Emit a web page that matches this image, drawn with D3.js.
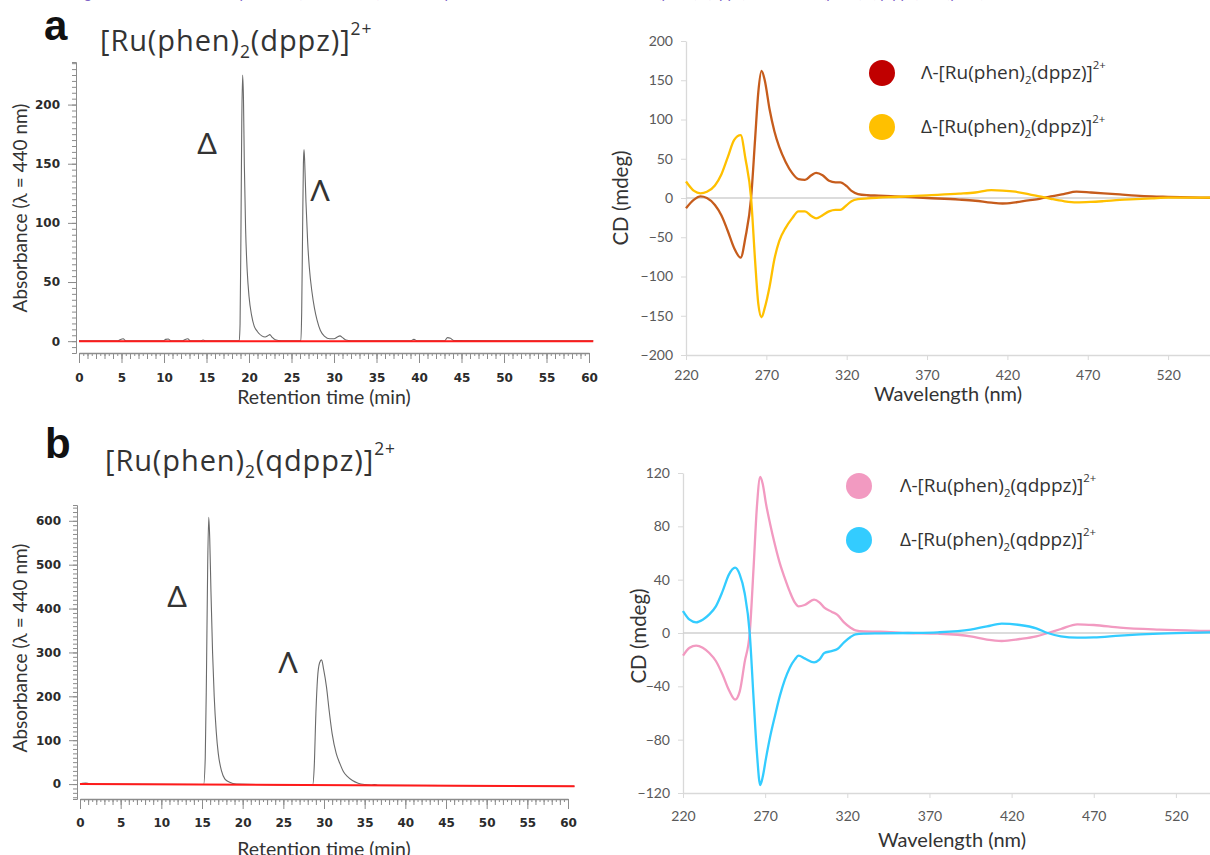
<!DOCTYPE html>
<html lang="en">
<head>
<meta charset="UTF-8" />
<title>Chiral HPLC and CD spectra of Ru complexes</title>
<style>
  body { margin: 0; background: #fff; }
  svg { display: block; }
  .chrom-axis text { font-family: 'Liberation Sans Narrow', 'DejaVu Sans', sans-serif; font-weight: bold; font-size: 12px; fill: #2b2b2b; }
  .chrom-axis path, .chrom-axis line { stroke: #8c8c8c; }
  .cd-axis text { font-family: Lato, 'Open Sans', sans-serif; font-size: 14px; fill: #595959; }
  .cd-axis path, .cd-axis line { stroke: #d9d9d9; }
  .lbl { font-family: Lato, 'Open Sans', sans-serif; fill: #333; }
  .seg { font-family: 'Open Sans', Lato, sans-serif; }
</style>
</head>
<body>
<svg width="1210" height="855"></svg>
<script src="https://d3js.org/d3.v7.min.js"></script>
<script>
// ---- HPLC chromatograms (retention time in min, absorbance at 440 nm) ----
const chromTimeA = [0, 4.6, 4.9, 5.2, 5.5, 9.9, 10.2, 10.5, 10.8, 12.2, 12.5, 12.8, 13.1, 14.3, 14.6, 14.9,
  18.85, 18.95, 19.05, 19.15, 19.25, 19.35, 19.45, 19.6, 19.8, 20.0, 20.3, 20.6, 21.0, 21.5, 21.9, 22.2, 22.45, 22.7, 23.1, 23.8,
  26.1, 26.2, 26.3, 26.4, 26.47, 26.55, 26.7, 26.9, 27.1, 27.4, 27.7, 28.0, 28.4, 28.9, 29.5, 30.0, 30.4, 30.7, 31.0, 31.4, 32.0,
  39.0, 39.4, 39.8, 43.0, 43.35, 43.7, 44.1, 60.5];
const chromAbsA = [0.3, 0.3, 1.5, 2.0, 0.3, 0.3, 1.5, 1.8, 0.3, 0.3, 1.5, 2.0, 0.3, 0.3, 1.0, 0.3,
  0.3, 15, 90, 185, 225, 205, 150, 95, 58, 38, 22, 13, 8, 4.5, 3.5, 4.5, 5.5, 3.5, 1.2, 0.4,
  0.3, 25, 90, 150, 162, 152, 118, 84, 62, 42, 28, 18, 9, 4, 2, 2, 3.5, 4.5, 3, 1, 0.4,
  0.3, 1.5, 0.3, 0.3, 3, 2.5, 0.5, 0.3];
const chromTimeB = [0, 0.3, 0.7, 1.1, 1.6, 15.2, 15.4, 15.55, 15.7, 15.83, 15.95, 16.1, 16.3, 16.5, 16.75, 17.0, 17.4, 17.8, 18.4, 19.2,
  28.6, 28.8, 29.0, 29.2, 29.45, 29.7, 29.95, 30.3, 30.65, 31.0, 31.5, 31.95, 32.4, 32.9, 33.5, 34.2, 35.0, 35.8, 36.2, 36.6, 60.8];
const chromAbsB = [0.5, 2, 2.5, 1.2, 0, -1, 60, 250, 500, 608, 560, 440, 300, 200, 120, 70, 30, 12, 4, 0,
  -2, 40, 160, 240, 276, 283, 262, 222, 165, 115, 70, 47, 28, 17, 8, 2, -1, -2, -1, -2.5, -5];
const redTimeA = [0, 60.5];
const redAbsA = [0, 0];
const redTimeB = [0, 60.8];
const redAbsB = [0, -5];
const chromTicksA = [0, 50, 100, 150, 200];
const chromTicksB = [0, 100, 200, 300, 400, 500, 600];
const timeTicks = d3.range(0, 61, 5);

// ---- CD spectra (wavelength in nm, CD in mdeg) ----
const cdWaveA = [220, 225, 229, 233, 238, 242, 246, 250, 254, 257, 260.5, 263, 265, 267, 269, 272, 275, 278, 282, 286, 290, 294,
  298, 301, 305, 309, 313, 316, 320, 323, 327, 333, 340, 350, 370, 390, 400, 410, 417, 425, 433, 440, 447, 455, 463, 472, 480, 490,
  500, 510, 520, 540, 560];
const cdLambdaA = [-13, -2, 2, 0, -9, -22, -42, -64, -76, -50, 0, 75, 135, 162, 150, 113, 85, 65, 46, 32, 24, 23,
  29, 32, 29, 22, 20, 20, 15, 9, 5, 3.5, 3, 2, 0, -2, -3.5, -6, -7, -5.5, -3, -1, 2, 5, 8, 7, 6, 4.5,
  3, 2, 1.5, 0.5, 0];
const cdDeltaA = [21, 9, 6, 8, 16, 30, 52, 74, 80, 50, 0, -80, -135, -152, -140, -113, -78, -55, -38, -26, -17, -17,
  -23, -26, -22, -17, -15, -15, -9, -4, -1.5, -0.5, 0.5, 1.3, 3.4, 5.5, 7, 10, 9.5, 8, 5, 2, -1, -4, -5.6, -5, -4, -2.5,
  -1.5, -0.5, 0.4, 0.5, 0];
const cdWaveB = [220, 224, 228, 232, 236, 240, 244, 248, 251.7, 254.5, 257.5, 260.6, 263, 265, 267, 268.5, 270.5, 273, 276, 279, 282,
  285, 288, 290.4, 294, 299.8, 303, 306, 310.4, 314, 318, 322, 325, 330, 340, 357, 375, 395, 405, 414, 425, 435, 442, 450, 460, 470, 486,
  510, 540, 560];
const cdLambdaB = [-17, -11, -9.4, -11, -15, -21, -31, -43, -50, -44, -22, 0, 50, 95, 117, 112, 97, 82, 66, 52, 41,
  31, 23, 20, 21, 25, 23, 19, 16, 13.6, 8, 4, 2, 1.2, 1, 0, -0.5, -2.5, -5, -6, -4.5, -2.5, 0, 3, 6.5, 6, 4,
  2.5, 1.5, 1];
const cdDeltaB = [16.5, 10, 8, 10, 14, 20, 31, 44, 49, 44, 30, 0, -50, -90, -114, -108, -94, -78, -62, -47, -35,
  -26, -20, -17, -19, -22, -20, -15, -13.6, -12, -7, -3, -1, -0.5, -0.3, 0, 0.5, 2.5, 5, 7, 6, 3.5, 0, -2.5, -3.5, -3.3, -2,
  -0.5, 0.5, 1];
const cdTicksX = [220, 270, 320, 370, 420, 470, 520];
const cdTicksYA = [-200, -150, -100, -50, 0, 50, 100, 150, 200];
const cdTicksYB = [-120, -80, -40, 0, 40, 80, 120];

const svg = d3.select("svg");

// caption line cut off at the top of the figure
svg.append("text")
  .attr("x", 72).attr("y", -2)
  .style("font-family", "Lato, sans-serif").style("font-size", "15px").attr("fill", "#8064c8")
  .text("Figure S1. Chiral HPLC separation (λ = 440 nm) and CD spectra of the enantiomers of [Ru(phen)2(dppz)]2+ and [Ru(phen)2(qdppz)]2+ (yield).");

function richText(g, x, y, size, parts, anchor) {
  const t = g.append("text").attr("class", "lbl").attr("x", x).attr("y", y)
    .style("font-size", size + "px").attr("text-anchor", anchor || "start");
  let shift = 0;
  parts.forEach(([s, kind]) => {
    const target = kind === "sub" ? 0.24 * size : kind === "sup" ? -0.55 * size : 0;
    t.append("tspan").attr("dy", target - shift)
      .style("font-size", kind ? (0.6 * size) + "px" : null).text(s);
    shift = target;
  });
  return t;
}
const formula = lig => [["[Ru(phen)"], ["2", "sub"], ["(" + lig + ")]"], ["2+", "sup"]];

function panelLetter(x, y, s) {
  svg.append("text").attr("x", x).attr("y", y).text(s)
    .style("font-family", "'Liberation Sans', Arial, sans-serif").style("font-weight", "bold")
    .style("font-size", "42px").attr("fill", "#111");
}

function chromatogram(o) {
  const x = d3.scaleLinear().domain([0, 60]).range(o.xRange);
  const y = d3.scaleLinear().domain(o.yDomain).range(o.yRange);
  const g = svg.append("g");
  const yBottom = o.yRange[0];

  // y axis: minor, then major with labels
  g.append("g").attr("class", "chrom-axis").attr("transform", `translate(${o.xRange[0] - 3},0)`)
    .call(d3.axisLeft(y).tickValues(d3.range(o.minorStep * Math.ceil(o.yDomain[0] / o.minorStep), o.yDomain[1], o.minorStep))
      .tickSize(4).tickFormat(""));
  g.append("g").attr("class", "chrom-axis").attr("transform", `translate(${o.xRange[0] - 3},0)`)
    .call(d3.axisLeft(y).tickValues(o.yTicks).tickSize(8).tickPadding(8))
    .call(a => a.select(".domain").remove());

  // x axis: half-minute, minute and 5-minute ticks
  const xa = g.append("g").attr("transform", `translate(0,${yBottom})`);
  xa.append("g").attr("class", "chrom-axis")
    .call(d3.axisBottom(x).tickValues(d3.range(0, 60.01, 0.5)).tickSize(3).tickFormat("").tickSizeOuter(0));
  xa.append("g").attr("class", "chrom-axis")
    .call(d3.axisBottom(x).tickValues(d3.range(0, 60.01, 1)).tickSize(6).tickFormat(""))
    .call(a => a.select(".domain").remove());
  xa.append("g").attr("class", "chrom-axis")
    .call(d3.axisBottom(x).tickValues(timeTicks).tickSize(10).tickPadding(o.xPad))
    .call(a => a.select(".domain").remove());
  xa.selectAll(".domain").attr("stroke-width", 1.5);

  const line = d3.line().x(d => x(d[0])).y(d => y(d[1])).curve(d3.curveMonotoneX);
  g.append("path").datum(d3.zip(o.time, o.abs))
    .attr("d", line).attr("fill", "none").attr("stroke", "#6a6a6a").attr("stroke-width", 1.1);
  g.append("path").datum(d3.zip(o.redTime, o.redAbs))
    .attr("d", line).attr("fill", "none").attr("stroke", "#ff1a1a").attr("stroke-width", 2);

  // peak labels
  o.peaks.forEach(p => {
    g.append("text").attr("class", "lbl").attr("x", p.x).attr("y", p.y).attr("text-anchor", "middle")
      .style("font-size", "29px").attr("fill", "#111").text(p.s);
  });

  g.append("text").attr("class", "lbl").attr("text-anchor", "middle")
    .attr("transform", `translate(${o.yTitle[0]},${o.yTitle[1]}) rotate(-90)`)
    .style("font-size", "19px").text("Absorbance (λ = 440 nm)");
  g.append("text").attr("class", "lbl").attr("text-anchor", "middle")
    .attr("x", o.xTitle[0]).attr("y", o.xTitle[1])
    .style("font-size", "19.5px").text("Retention time (min)");
}

function cdPlot(o) {
  const x = d3.scaleLinear().domain([220, 560]).range([o.x0, o.x0 + 340 * o.pxPerNm]);
  const y = d3.scaleLinear().domain(o.yDomain).range(o.yRange);
  const g = svg.append("g");

  g.append("g").attr("class", "cd-axis").attr("transform", `translate(${o.x0},0)`)
    .call(d3.axisLeft(y).tickValues(o.yTicks).tickSize(5).tickPadding(8).tickSizeOuter(0).tickFormat(d3.format("d")))
    .call(a => a.select(".domain").attr("stroke-width", 1.3));
  g.append("g").attr("class", "cd-axis").attr("transform", `translate(0,${o.yRange[0]})`)
    .call(d3.axisBottom(x).tickValues(cdTicksX).tickSize(5).tickPadding(o.xPad).tickSizeOuter(0))
    .call(a => a.select(".domain").attr("stroke-width", 1.3));

  // zero line
  g.append("line").attr("x1", x(220)).attr("x2", 1210).attr("y1", y(0)).attr("y2", y(0))
    .attr("stroke", "#d0d0d0").attr("stroke-width", 1.6);

  const line = d3.line().x(d => x(d[0])).y(d => y(d[1])).curve(d3.curveMonotoneX);
  o.series.forEach(s => {
    g.append("path").datum(d3.zip(o.wave, s.values))
      .attr("d", line).attr("fill", "none").attr("stroke", s.line).attr("stroke-width", 2.3);
  });

  // legend
  o.series.forEach((s, i) => {
    g.append("circle").attr("cx", o.legend[0]).attr("cy", o.legend[1] + i * 54).attr("r", 13).attr("fill", s.dot);
    richText(g, o.legend[2], o.legend[1] + 6 + i * 54, 19, [[s.prefix + "-"]].concat(formula(o.ligand)))
      .classed("seg", true).attr("fill", "#3a3a3a");
  });

  g.append("text").attr("class", "lbl").attr("text-anchor", "middle")
    .attr("transform", `translate(${o.yTitle[0]},${o.yTitle[1]}) rotate(-90)`)
    .style("font-size", "20.5px").text("CD (mdeg)");
  g.append("text").attr("class", "lbl").attr("text-anchor", "middle")
    .attr("x", o.xTitle[0]).attr("y", o.xTitle[1])
    .style("font-size", "20px").text("Wavelength (nm)");
}

// ---- panel a ----
panelLetter(44, 40, "a");
richText(svg, 100, 51, 29, formula("dppz")).classed("seg", true).style("letter-spacing", "0.9px");
chromatogram({
  time: chromTimeA, abs: chromAbsA, redTime: redTimeA, redAbs: redAbsA,
  xRange: [79, 589], yDomain: [-10, 236], yRange: [353, 62], yTicks: chromTicksA, minorStep: 5, xPad: 10,
  peaks: [{ s: "Δ", x: 207, y: 154 }, { s: "Λ", x: 320, y: 201 }],
  yTitle: [27, 208], xTitle: [324, 404]
});
cdPlot({
  wave: cdWaveA, x0: 686, pxPerNm: 1.607, yDomain: [-200, 200], yRange: [355, 41], yTicks: cdTicksYA, xPad: 10,
  ligand: "dppz", legend: [882, 73, 921],
  series: [
    { prefix: "Λ", values: cdLambdaA, line: "#c65c1c", dot: "#c00000" },
    { prefix: "Δ", values: cdDeltaA, line: "#ffc000", dot: "#ffc000" }
  ],
  yTitle: [628, 198], xTitle: [948, 401]
});

// ---- panel b ----
panelLetter(45, 458, "b");
richText(svg, 105, 471, 29, formula("qdppz")).classed("seg", true).style("letter-spacing", "0.9px");
chromatogram({
  time: chromTimeB, abs: chromAbsB, redTime: redTimeB, redAbs: redAbsB,
  xRange: [80, 568], yDomain: [-34, 636], yRange: [799, 505], yTicks: chromTicksB, minorStep: 10, xPad: 9,
  peaks: [{ s: "Δ", x: 177, y: 607 }, { s: "Λ", x: 288, y: 673 }],
  yTitle: [27, 648], xTitle: [324, 856]
});
cdPlot({
  wave: cdWaveB, x0: 683, pxPerNm: 1.643, yDomain: [-120, 120], yRange: [793, 473], yTicks: cdTicksYB, xPad: 13,
  ligand: "qdppz", legend: [859, 486, 900],
  series: [
    { prefix: "Λ", values: cdLambdaB, line: "#f29ac1", dot: "#f29ac1" },
    { prefix: "Δ", values: cdDeltaB, line: "#33ccff", dot: "#33ccff" }
  ],
  yTitle: [646, 636], xTitle: [952, 847]
});
</script>
</body>
</html>
